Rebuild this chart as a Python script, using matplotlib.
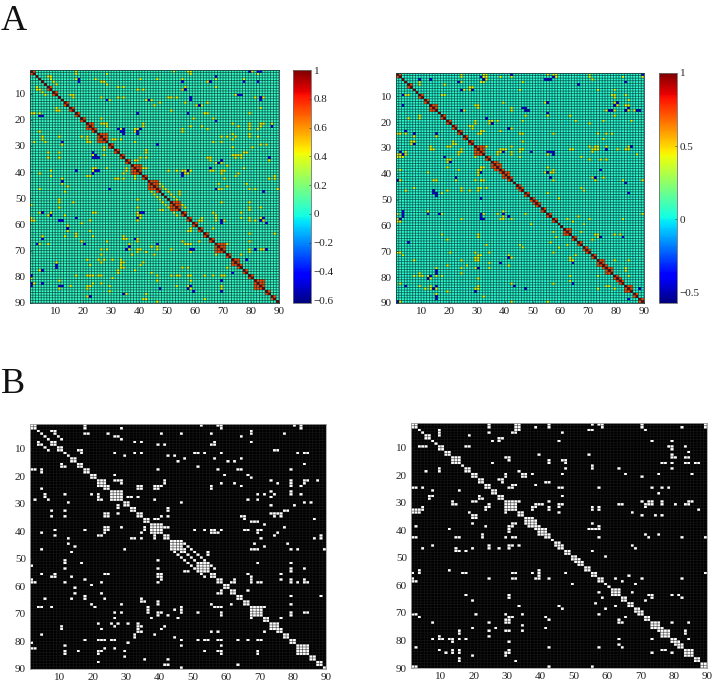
import numpy as np
import matplotlib
matplotlib.use('Agg')
import matplotlib.pyplot as plt

W, H = 713, 681
plt.rcParams['font.family'] = ['Liberation Serif', 'DejaVu Serif']

ticks = [10, 20, 30, 40, 50, 60, 70, 80, 90]

# blocks along the diagonal, first and last node
blocks_1 = [(1, 2), (7, 8), (9, 10), (13, 14), (15, 16), (17, 18), (19, 20), (21, 23), (23, 24),
            (25, 28), (29, 30), (31, 32), (33, 34), (35, 36), (37, 40), (41, 42), (43, 46),
            (46, 47), (51, 54), (55, 56), (57, 58), (59, 60), (61, 62), (63, 64), (65, 66),
            (67, 70), (71, 72), (73, 75), (75, 76), (77, 78), (79, 80), (81, 84), (85, 86), (87, 88)]
blocks_2 = [(1, 2), (5, 6), (9, 10), (11, 12), (13, 15), (17, 18), (19, 20), (21, 22), (23, 24),
            (25, 26), (27, 28), (29, 32), (33, 34), (35, 37), (36, 38), (38, 39), (39, 41), (41, 42),
            (44, 45), (45, 46), (47, 48), (49, 50), (50, 51), (51, 52), (53, 54), (55, 56), (57, 58),
            (61, 63), (64, 65), (66, 67), (68, 69), (69, 70), (71, 72), (73, 75), (75, 76), (76, 78),
            (79, 80), (80, 81), (81, 82), (83, 85), (86, 87), (88, 89)]

# white cells of the lower row of panels, row: columns
edges_1 = {
    1: [17, 52, 57, 58, 80, 82], 2: [17, 28, 58, 82], 3: [7, 8, 67], 4: [8, 17, 18, 24, 46, 55, 67, 77],
    5: [9, 26, 27, 64], 6: [10, 28], 7: [32, 56, 67], 8: [3, 4, 39, 55, 56], 9: [4, 5], 10: [6, 15, 16, 74, 75],
    11: [16, 26, 32, 50, 51, 58, 81, 83, 84], 12: [29, 42], 13: [47, 56, 64], 14: [45, 60], 15: [83],
    16: [51], 17: [39, 57, 63, 64, 79], 18: [1, 2, 4], 19: [4, 26, 59, 66], 20: [67],
    21: [26, 27, 28, 41, 73, 79, 83, 84, 87], 22: [28, 41, 58, 62, 79, 83], 23: [33, 34, 38, 39, 40, 64, 55, 79, 82],
    24: [33, 34, 38, 39, 55], 25: [4, 73, 79], 26: [20, 21, 69, 71, 74, 79, 82], 27: [5, 11, 21, 30, 31, 73],
    28: [2, 6, 21, 22, 38, 66], 29: [46, 83], 30: [12, 73, 80], 31: [42], 32: [27, 42, 77, 78],
    33: [23, 27, 73, 74, 75, 76], 34: [7, 11, 23, 24, 40, 64, 65, 74, 76], 35: [23, 24, 38, 39, 65, 86],
    36: [67, 68, 69], 38: [29, 41, 42], 39: [23, 24, 50, 53, 55, 56, 58, 65, 66, 69, 70],
    40: [4, 17, 23, 24, 34, 55, 56, 57, 69, 75], 41: [8, 23, 32, 34, 74], 42: [21, 22, 33, 34, 86],
    44: [12, 47, 78], 45: [48], 46: [14, 49, 67, 68, 69, 79, 89], 47: [4, 50, 54], 48: [13, 51, 54], 49: [52], 50: [53],
    51: [39, 54, 69, 79], 52: [11, 16, 55], 53: [1, 11, 56, 79, 83], 54: [39, 79], 55: [66, 76],
    56: [4, 8, 23, 24, 38, 39, 40, 67], 57: [7, 8, 40, 62, 67, 76, 79, 83], 58: [1, 17, 39, 61, 62, 67, 69, 70, 79, 81, 83, 84],
    59: [1, 2, 11, 22], 60: [19], 61: [66], 62: [14], 63: [22, 58, 79, 88], 64: [17],
    65: [5, 13, 17, 23], 66: [19, 37, 79], 67: [37, 71], 68: [2, 3, 7, 21, 35, 36, 44, 45],
    69: [28, 35, 36, 45, 79, 83, 84], 70: [37, 39, 42, 45, 50, 79], 71: [26, 37, 45, 76], 74: [25, 27, 30],
    75: [11, 22, 26, 34], 76: [11, 33, 40], 77: [33, 38], 78: [4, 32, 33], 79: [43],
    80: [1, 17, 21, 22, 25, 26, 50, 53], 81: [30, 46], 82: [11], 83: [1, 2, 26], 84: [11, 15, 21, 23],
    85: [11, 21, 22, 29], 87: [34], 88: [21, 41, 42], 89: [46, 62],
}
edges_2 = {
    1: [24, 32, 33, 42, 55, 57, 58, 70, 89], 2: [24, 32, 33, 38, 42, 58, 70, 82, 89], 3: [32, 33, 54, 55, 71],
    4: [24, 31, 32, 46], 5: [18], 6: [27, 28], 7: [25, 27, 45, 73, 79], 9: [3, 4, 5, 17, 18, 78, 79, 83],
    10: [79], 11: [84], 12: [39, 54, 79], 13: [29, 30, 79, 80, 83, 84], 14: [30, 42, 46, 47],
    15: [25, 42, 47, 76, 77, 79, 83, 84, 86, 87], 16: [55], 17: [47, 55, 63], 18: [33],
    19: [34, 35, 37, 46, 65, 75, 85], 20: [34, 35, 70], 22: [41, 42], 23: [1, 2, 3, 4, 31, 32, 38],
    24: [7, 30, 31, 45, 46, 73, 76, 78], 25: [7], 26: [6, 75], 27: [6, 21, 46], 28: [14, 21, 22],
    29: [13, 19, 20, 23, 33, 42, 70, 72, 73, 76, 84, 85], 30: [13, 14, 23, 38, 39, 40, 45, 46, 63, 64, 71, 72, 73, 76, 80, 83, 84],
    31: [1, 2, 3, 4, 22, 37, 38, 42, 45, 55, 57, 71], 32: [1, 2, 3, 18, 22, 37, 42, 55, 57, 87],
    33: [19, 20, 45, 67], 34: [19, 20, 70, 74, 76], 36: [19], 37: [55], 38: [2, 22, 30, 31, 57],
    39: [12, 54, 55, 56, 57], 40: [29], 41: [21, 22, 29, 71], 42: [1, 2, 21, 22, 28, 31, 32, 57, 72, 82, 89],
    43: [14, 15], 45: [7, 19, 24, 29, 30, 32, 67], 46: [4, 13, 24, 27, 30, 68], 47: [14, 15, 16, 17, 55],
    49: [59], 53: [38], 54: [2, 3, 12, 37, 38], 55: [1, 3, 16, 17, 32, 33, 38, 89], 56: [30, 38, 66],
    57: [1, 2, 24, 31, 32, 33, 37, 42, 62, 70, 82], 58: [2, 64], 59: [68], 62: [67],
    63: [17, 30, 72, 73, 79, 81], 64: [30, 73, 82], 65: [19], 67: [33], 70: [1, 2, 20, 29, 34], 71: [3, 32, 41, 64, 65],
    72: [30, 42, 64, 65], 73: [7, 24, 29, 30, 79, 84], 74: [34], 75: [26, 41], 76: [15, 19, 24, 29, 30, 34, 83],
    77: [15, 83], 78: [15], 79: [7, 9, 12, 13, 14, 15, 17, 24, 64, 84], 80: [14, 30], 81: [64], 82: [1, 57, 65],
    83: [9, 15, 76, 77], 84: [11, 13, 14, 15, 29, 30, 73], 85: [19, 28, 29], 87: [15, 32], 88: [15],
    89: [1, 2, 42, 55],
}

# blue cells of the upper row of panels, row and column
negative_1 = [(12, 43), (12, 28), (11, 58), (10, 75), (10, 76), (11, 83), (17, 57), (18, 4), (17, 39),
              (23, 32), (23, 34), (25, 34), (25, 39), (33, 24), (34, 24), (39, 24), (40, 23), (36, 68), (35, 69),
              (69, 58), (69, 59), (67, 46), (65, 38), (40, 55), (41, 55), (57, 39), (55, 40), (83, 58), (85, 59),
              (81, 69), (85, 69), (78, 73), (58, 12), (56, 8), (61, 14), (67, 20), (46, 29), (46, 67), (67, 3),
              (83, 11), (83, 12), (83, 1), (87, 22), (86, 34), (84, 47), (57, 84), (5, 65), (5, 18), (5, 55),
              (1, 79), (1, 82), (5, 77), (5, 82)]
negative_2 = [(3, 54), (3, 55), (3, 56), (4, 23), (3, 13), (1, 42), (5, 66), (1, 89), (9, 3), (14, 46), (15, 47),
              (15, 77), (15, 83), (15, 87), (13, 79), (31, 2), (32, 3), (29, 85), (31, 56), (32, 57), (39, 55),
              (41, 56), (55, 3), (57, 2), (55, 31), (57, 31), (41, 72), (47, 14), (48, 15), (24, 7), (28, 7),
              (33, 18), (35, 20), (41, 22), (39, 39), (39, 31), (49, 31), (55, 12), (55, 16), (80, 12), (84, 14),
              (88, 15), (85, 29), (74, 38), (47, 84), (88, 84), (83, 43), (82, 64), (74, 64), (78, 15), (76, 30),
              (15, 24), (83, 4)]

vmin_1, vmin_2, vmax = -0.62, -0.575, 1
background = 0.05
edge_value = 0.42
block_value = 0.72
negative_value = -0.45
cbar_ticks_1 = [-0.6, -0.4, -0.2, 0, 0.2, 0.4, 0.6, 0.8, 1]
cbar_ticks_2 = [-0.5, 0, 0.5, 1]
cbar_labels_1 = ['\u22120.6', '\u22120.4', '\u22120.2', '0', '0.2', '0.4', '0.6', '0.8', '1']
cbar_labels_2 = ['\u22120.5', '0', '0.5', '1']


def px_axes(x0, y0, x1, y1):
    return fig.add_axes([x0 / W, 1 - y1 / H, (x1 - x0) / W, (y1 - y0) / H])


def upper_cells(edges):
    # the matrices are symmetric, so a cell read in both halves must count once
    upper = {(r, c) for r, cols in edges.items() for c in cols if r < c}
    cells = set(upper)
    for r, cols in edges.items():
        for c in cols:
            if r > c and not any((c + i, r + j) in upper for i in (-1, 0, 1) for j in (-1, 0, 1)):
                cells.add((c, r))
    return cells


def binary_matrix(blocks, edges):
    m = np.zeros((90, 90))
    m[np.arange(90), np.arange(90)] = 1
    for a, b in blocks:
        m[a - 1:b, a - 1:b] = 1
    for r, c in upper_cells(edges):
        m[r - 1, c - 1] = 1
        m[c - 1, r - 1] = 1
    return m


def corr_matrix(blocks, edges, negative):
    m = np.full((90, 90), background)
    m[binary_matrix([], edges) > 0] = edge_value
    for a, e in blocks:
        m[a - 1:e, a - 1:e] = block_value
    for r, c in negative:
        m[r - 1, c - 1] = negative_value
        m[c - 1, r - 1] = negative_value
    m[np.arange(90), np.arange(90)] = 1
    return m


def grid_lines(ax, color, alpha, lw=0.45):
    # thin faceting lines, not snapped so that they stay fainter than one pixel
    pos = np.arange(1, 91)
    for coll in (ax.vlines(pos, 1, 90, color=color, linewidth=lw, alpha=alpha),
                 ax.hlines(pos, 1, 90, color=color, linewidth=lw, alpha=alpha)):
        coll.set_snap(False)


def style_axes(ax, spine='#707070'):
    ax.set_xlim(1, 90)
    ax.set_ylim(90, 1)
    ax.set_xticks(ticks)
    ax.set_yticks(ticks)
    ax.tick_params(length=1.5, width=0.4, direction='in', labelsize=8, pad=3, colors='#222222')
    for s in ax.spines.values():
        s.set_linewidth(0.6)
        s.set_color(spine)


def draw_corr(box, cbox, m, vmin, cticks, clabels):
    ax = px_axes(*box)
    edges = np.arange(1, 91)
    pc = ax.pcolormesh(edges, edges, m[:-1, :-1], cmap='jet', vmin=vmin, vmax=vmax)
    grid_lines(ax, '#0a2a30', 0.7, lw=0.6)
    style_axes(ax, '#204040')
    cax = px_axes(*cbox)
    cb = fig.colorbar(pc, cax=cax)
    cb.set_ticks(cticks)
    cb.set_ticklabels(clabels)
    cb.ax.tick_params(length=1.5, width=0.4, direction='in', labelsize=8, pad=2, colors='#222222')
    cb.outline.set_linewidth(0.6)
    cb.outline.set_edgecolor('#707070')


def draw_bin(box, m):
    ax = px_axes(*box)
    edges = np.arange(1, 91)
    ax.pcolormesh(edges, edges, m[:-1, :-1], cmap='gray', vmin=0, vmax=1)
    grid_lines(ax, '#1c1c1c', 0.8)
    style_axes(ax, '#a0a0a0')


fig = plt.figure(figsize=(W / 100, H / 100), dpi=100)

draw_corr((30, 70, 279, 303), (293, 70, 311, 303), corr_matrix(blocks_1, edges_1, negative_1),
          vmin_1, cbar_ticks_1, cbar_labels_1)
draw_corr((396, 73, 644, 303), (659, 73, 677, 303), corr_matrix(blocks_2, edges_2, negative_2),
          vmin_2, cbar_ticks_2, cbar_labels_2)
draw_bin((30, 424, 326, 669), binary_matrix(blocks_1, edges_1))
draw_bin((411, 423, 707, 668), binary_matrix(blocks_2, edges_2))

fig.text(1 / W, 1 - 30 / H, 'A', fontsize=26, ha='left', va='baseline', color='#111111')
fig.text(1 / W, 1 - 393 / H, 'B', fontsize=26, ha='left', va='baseline', color='#111111')

fig.savefig('out.png', dpi=100)
